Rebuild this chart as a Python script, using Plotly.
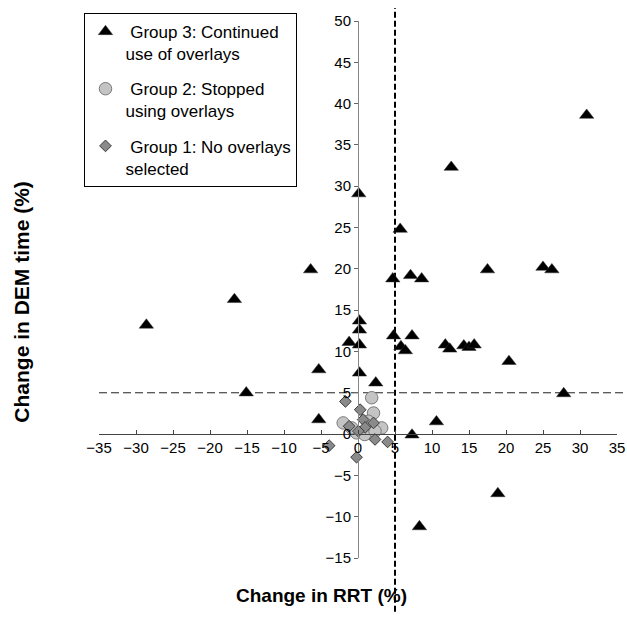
import plotly.graph_objects as go

# Group 3: Continued use of overlays
x3 = [30.9, 12.6, 0.1, 5.7, 4.7, 7.1, 8.6, 17.5, 25.0, 26.2, 4.8, 7.3, 5.8, 6.4,
      11.8, 12.4, 14.3, 15.0, 15.7, 20.4, 27.8, 10.6, 7.3, 18.9, 8.3, -28.6,
      -16.7, -6.4, -5.3, -15.1, -5.3, 0.2, 0.2, -1.2, 0.2, 0.2, 2.4]
y3 = [38.6, 32.3, 29.1, 24.8, 18.8, 19.2, 18.8, 19.9, 20.2, 19.9, 11.9, 11.9, 10.6, 10.1,
      10.8, 10.3, 10.7, 10.5, 10.8, 8.8, 4.9, 1.5, -0.1, -7.2, -11.2, 13.2,
      16.3, 19.9, 7.8, 5.0, 1.75, 13.7, 12.6, 11.1, 10.8, 7.4, 6.2]

# Group 2: Stopped using overlays
x2 = [1.85, -2.0, 2.1, 3.2, -0.2, 0.9, -0.85, 1.4, 2.3]
y2 = [4.4, 1.35, 2.55, 0.75, 0.15, -0.05, 0.75, 1.55, 0.35]

# Group 1: No overlays selected
x1 = [-1.7, 0.3, -1.2, 0.7, 2.1, 0.95, 0.05, 2.3, 4.0, -3.9, -0.2]
y1 = [3.95, 2.95, 0.95, 1.75, 1.35, 0.8, 0.35, -0.65, -0.95, -1.4, -2.8]

names = ["\u00a0Group 3: Continued<br>use of overlays",
         "\u00a0Group 2: Stopped<br>using overlays",
         "\u00a0Group 1: No overlays<br>selected"]

x_range = [-35, 35]
y_range = [-15, 50]
x_tick_vals = list(range(-35, 36, 5))
y_tick_vals = list(range(-15, 51, 5))
rrt_threshold = 5
dem_threshold = 5

FONT = "Liberation Sans, Arial, sans-serif"

fig = go.Figure()
fig.add_trace(go.Scatter(
    x=x3, y=y3, mode="markers", name=names[0], legendgroup="g3",
    marker=dict(symbol="triangle-up", size=12.5, color="black",
                line=dict(color="#333333", width=0.5))))
fig.add_trace(go.Scatter(
    x=x2, y=y2, mode="markers", name=names[1], legendgroup="g2",
    marker=dict(symbol="circle", size=12.5, color="#c4c4c4",
                line=dict(color="#7a7a7a", width=1))))
fig.add_trace(go.Scatter(
    x=x1, y=y1, mode="markers", name=names[2], legendgroup="g1",
    marker=dict(symbol="diamond", size=9, color="#8a8a8a",
                line=dict(color="#3a3a3a", width=1))))

fig.add_shape(type="line", xref="x", yref="paper",
              x0=rrt_threshold, x1=rrt_threshold, y0=-0.1, y1=1.024,
              line=dict(color="black", width=2, dash="6px,3px"), layer="below")
fig.add_shape(type="line", xref="paper", yref="y",
              x0=0, x1=1.02, y0=dem_threshold, y1=dem_threshold,
              line=dict(color="#222222", width=1, dash="8px,4px"), layer="below")

x_pos = (0 - y_range[0]) / (y_range[1] - y_range[0])
y_pos = (0 - x_range[0]) / (x_range[1] - x_range[0])

fig.update_layout(
    width=627, height=618,
    margin=dict(l=99, r=10, t=21, b=60, autoexpand=False),
    paper_bgcolor="white", plot_bgcolor="white",
    font=dict(family=FONT, color="black"),
    showlegend=True,
    legend=dict(x=-0.028, y=1.015, xanchor="left", yanchor="top",
                bgcolor="white", bordercolor="black", borderwidth=1,
                font=dict(size=17, family=FONT, color="black"),
                valign="top", traceorder="grouped", tracegroupgap=10),
    xaxis=dict(range=x_range, anchor="free", position=x_pos,
               showgrid=False, zeroline=False, showline=True,
               linecolor="#444444", linewidth=1,
               ticks="inside", ticklen=4, tickcolor="#444444",
               tickvals=x_tick_vals, tickfont=dict(size=15, family=FONT)),
    yaxis=dict(range=y_range, anchor="free", position=y_pos,
               showgrid=False, zeroline=False, showline=True,
               linecolor="#888888", linewidth=1,
               ticks="outside", ticklen=4, tickcolor="#666666",
               tickvals=y_tick_vals, tickfont=dict(size=15, family=FONT)),
    annotations=[
        dict(text="<b>Change in RRT (%)</b>", xref="paper", yref="paper",
             x=0.43, y=-0.069, xanchor="center", yanchor="middle",
             showarrow=False, font=dict(size=19, family=FONT)),
        dict(text="<b>Change in DEM time (%)</b>", xref="paper", yref="paper",
             x=-0.149, y=0.477, xanchor="center", yanchor="middle",
             textangle=-90, showarrow=False, font=dict(size=21, family=FONT)),
    ],
)

fig.write_html("out.html",
               config={"displayModeBar": False},
               post_script="document.body.style.margin='0';document.body.style.overflow='hidden';")
